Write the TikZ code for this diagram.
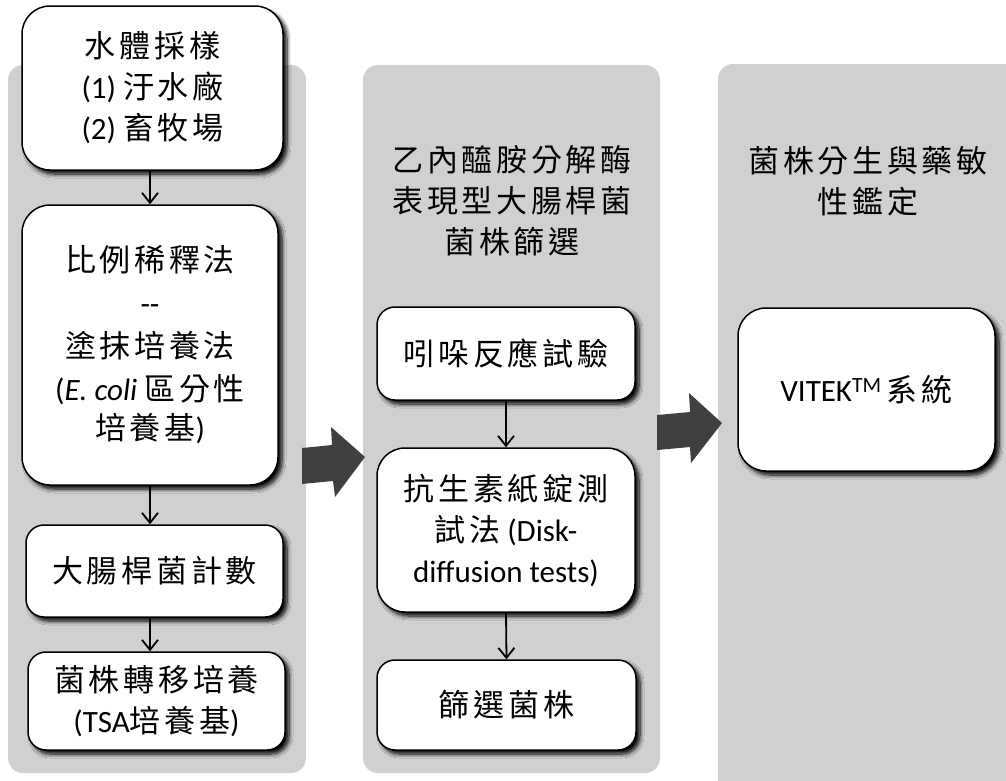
\documentclass[tikz,border=0pt]{standalone}
\usepackage{fontspec}
\setmainfont{Carlito}
\newfontfamily\cjk[LetterSpace=12]{Noto Sans CJK TC}
\usetikzlibrary{shadows.blur,arrows.meta}
\definecolor{panel}{RGB}{208,208,208}
\definecolor{barrow}{RGB}{64,64,64}
\tikzset{
  panelbox/.style={fill=panel,draw=none,rounded corners=15pt},
  stepbox/.style={draw=black,line width=1.5pt,fill=white,align=center,
    inner sep=0pt,font=\fontsize{31}{41}\selectfont,
    blur shadow={shadow xshift=4pt,shadow yshift=-4pt,shadow blur radius=4pt,shadow blur steps=8,shadow opacity=100}},
  r18/.style={rounded corners=18pt},
  r28/.style={rounded corners=28pt},
  titletext/.style={align=center,font=\fontsize{31}{41}\selectfont,inner sep=0pt},
  flow/.style={line width=1.8pt,-{Straight Barb[length=10pt,width=16pt,line width=1.8pt]}},
  bigarrow/.style={fill=barrow,draw=none}
}
\begin{document}
\begin{tikzpicture}[x=1pt,y=-1pt]
\useasboundingbox (0,0) rectangle (1006,780);
\clip (0,0) rectangle (1006,780);
% panels
\fill[panelbox] (8,65) rectangle (306,773);
\fill[panelbox] (363,65) rectangle (660,773);
\fill[panelbox] (718,64) rectangle (1040,810);
% block arrows
\fill[bigarrow] (302,448) -- (332,445) -- (331,427) -- (365,457) -- (335,497) -- (333,481) -- (302,484) -- cycle;
\fill[bigarrow] (657,415) -- (690,412) -- (689,393) -- (722,423) -- (691,463) -- (690,447) -- (657,450) -- cycle;
% column 1
\node[stepbox,r28,minimum width=261pt,minimum height=164pt] (A) at (152.5,88)
  {{\cjk 水體採樣}\\(1) {\cjk 汙水廠}\\(2) {\cjk 畜牧場}};
\node[stepbox,r28,minimum width=256pt,minimum height=280pt] (B) at (150,345)
  {{\cjk 比例稀釋法}\\[2pt]{-}{-}\\[2pt]{\cjk 塗抹培養法}\\[2pt](\textit{E. coli} {\cjk 區分性}\\[-2pt]{\cjk 培養基})};
\node[stepbox,r18,minimum width=257pt,minimum height=92pt] (C) at (154.5,571)
  {{\cjk 大腸桿菌計數}};
\node[stepbox,r18,minimum width=257pt,minimum height=98pt] (D) at (156.5,701)
  {{\cjk 菌株轉移培養}\\(TSA{\cjk 培養基})};
% column 2
\node[titletext] (T2) at (512,201) {{\cjk 乙內醯胺分解酶}\\{\cjk 表現型大腸桿菌}\\{\cjk 菌株篩選}};
\node[stepbox,r18,minimum width=258pt,minimum height=93pt] (E) at (506,353.5)
  {{\cjk 吲哚反應試驗}};
\node[stepbox,r28,minimum width=258pt,minimum height=164pt] (F) at (506,530)
  {{\cjk 抗生素紙錠測}\\{\cjk 試法} (Disk-\\diffusion tests)};
\node[stepbox,r18,minimum width=259pt,minimum height=90pt] (G) at (506.5,705)
  {{\cjk 篩選菌株}};
% column 3
\node[titletext] (T3) at (868,181) {{\cjk 菌株分生與藥敏}\\{\cjk 性鑑定}};
\node[stepbox,r28,minimum width=257pt,minimum height=163pt] (H) at (866.5,389.5)
  {VITEK\textsuperscript{TM}\,{\cjk 系統}};
% connectors
\draw[flow] (B.north |- A.south) -- (B.north);
\draw[flow] (B.south) -- (B.south |- C.north);
\draw[flow] (B.south |- C.south) -- (B.south |- D.north);
\draw[flow] (E.south) -- (F.north);
\draw[flow] (F.south) -- (G.north);
\end{tikzpicture}
\end{document}
